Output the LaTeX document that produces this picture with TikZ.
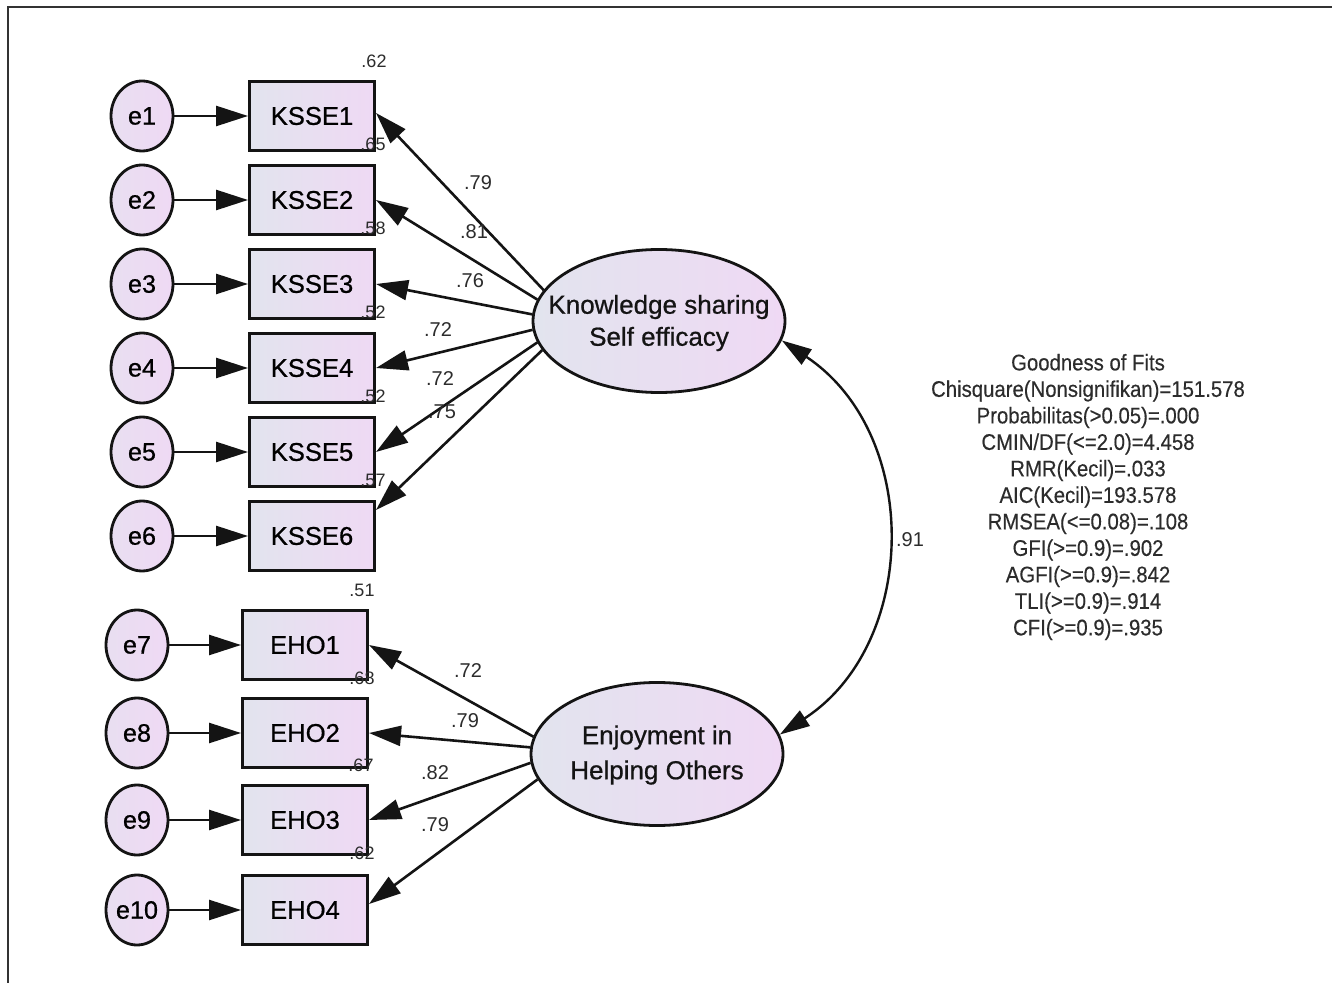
\documentclass[tikz,border=0pt]{standalone}
\usepackage{fontspec}
\setmainfont{Liberation Sans}
\newfontfamily\lblfont[FakeBold=0.7]{Liberation Sans}
\newfontfamily\fitfont[FakeStretch=0.9,FakeBold=0.3]{Liberation Sans}
\usetikzlibrary{arrows.meta,calc,shapes.geometric}
\definecolor{fillL}{HTML}{E2E4EE}
\definecolor{fillR}{HTML}{EFD9F4}
\definecolor{ink}{HTML}{141414}
\definecolor{frame}{HTML}{333333}
\tikzset{
  obs/.style={draw=ink, line width=1.5pt, rectangle, minimum width=62.5pt, minimum height=34.5pt,
    left color=fillL, right color=fillR, font=\lblfont\fontsize{12.8}{14}\selectfont, inner sep=0pt},
  err/.style={draw=ink, line width=1.4pt, ellipse, minimum width=31pt, minimum height=35pt,
    left color=fillL!50!fillR, right color=fillR, font=\lblfont\fontsize{12.6}{14}\selectfont, inner sep=0pt},
  lat/.style={draw=ink, line width=1.4pt, ellipse, minimum width=126pt, minimum height=71.5pt,
    left color=fillL, right color=fillR, inner sep=0pt},
  lattext/.style={align=center, inner sep=0pt, text=ink},
  arr/.style={draw=ink, line width=1.3pt, -{Triangle[length=16pt,width=10pt]}},
  cov/.style={draw=ink, line width=1.2pt, {Triangle[length=15pt,width=9pt]}-{Triangle[length=15pt,width=9pt]}},
  num/.style={font=\fontsize{9}{10}\selectfont, text=ink!90, inner sep=0pt},
  lod/.style={font=\fontsize{10}{11}\selectfont, text=ink!90, inner sep=0pt},
}
\begin{document}
\begin{tikzpicture}[x=0.5pt, y=-0.5pt]
\useasboundingbox (0,0) rectangle (1332,983);
\fill[white] (0,0) rectangle (1332,983);
\coordinate (fb) at (8,983);
\coordinate (fc) at (8,7);
\coordinate (fr) at (1332,7);
\draw[frame, line width=1.1pt] (fb) -- (fc) -- (fr);

% error terms
\node[err] (e1) at (142,116) {e1};
\node[err] (e2) at (142,200) {e2};
\node[err] (e3) at (142,284) {e3};
\node[err] (e4) at (142,368) {e4};
\node[err] (e5) at (142,452) {e5};
\node[err] (e6) at (142,536) {e6};
\node[err] (e7) at (137,645) {e7};
\node[err] (e8) at (137,733) {e8};
\node[err] (e9) at (137,820) {e9};
\node[err] (e10) at (137,910) {e10};

% indicators
\node[obs] (k1) at (312,116) {KSSE1};
\node[obs] (k2) at (312,200) {KSSE2};
\node[obs] (k3) at (312,284) {KSSE3};
\node[obs] (k4) at (312,368) {KSSE4};
\node[obs] (k5) at (312,452) {KSSE5};
\node[obs] (k6) at (312,536) {KSSE6};
\node[obs] (h1) at (305,645) {EHO1};
\node[obs] (h2) at (305,733) {EHO2};
\node[obs] (h3) at (305,820) {EHO3};
\node[obs] (h4) at (305,910) {EHO4};

% latent variables
\node[lat] (ks) at (659,321) {};
\node[lattext, font=\lblfont\fontsize{13}{16}\selectfont] (kst) at (659,323) {Knowledge sharing\\Self efficacy};
\node[lat] (eh) at (657,754) {};
\node[lattext, font=\lblfont\fontsize{13}{17.5}\selectfont] (eht) at (657,755) {Enjoyment in\\Helping Others};

% error arrows
\foreach \a/\b in {e1/k1,e2/k2,e3/k3,e4/k4,e5/k5,e6/k6,e7/h1,e8/h2,e9/h3,e10/h4}
  \draw[arr] (\a) -- (\b);

% loadings
\draw[arr] (ks.165) -- ($(k1.east)+(0,-3)$);
\draw[arr] (ks.170) -- (k2.east);
\draw[arr] (ks.177) -- (k3.east);
\draw[arr] (ks.184) -- (k4.east);
\draw[arr] (ks.190) -- (k5.east);
\draw[arr] (ks.194) -- ($(k6.east)+(0,-26)$);
\draw[arr] (eh.172) -- (h1.east);
\draw[arr] (eh.177) -- (h2.east);
\draw[arr] (eh.184) -- (h3.east);
\draw[arr] (eh.192) -- ($(h4.east)+(0,-6)$);

% covariance
\draw[cov] (ks.351) .. controls (922,434) and (919,644) .. (eh.9);
\node[lod] (c91) at (910,540) {.91};

% loading labels
\node[lod] (l1) at (478,183) {.79};
\node[lod] (l2) at (474,232) {.81};
\node[lod] (l3) at (470,281) {.76};
\node[lod] (l4) at (438,330) {.72};
\node[lod] (l5) at (440,379) {.72};
\node[lod] (l6) at (442,412) {.75};
\node[lod] (l7) at (468,671) {.72};
\node[lod] (l8) at (465,721) {.79};
\node[lod] (l9) at (435,773) {.82};
\node[lod] (l10) at (435,825) {.79};

% squared multiple correlations
\node[num] (r1) at (374,61) {.62};
\node[num] (r2) at (373,144) {.65};
\node[num] (r3) at (373,228) {.58};
\node[num] (r4) at (373,312) {.52};
\node[num] (r5) at (373,396) {.52};
\node[num] (r6) at (373,480) {.57};
\node[num] (r7) at (362,590) {.51};
\node[num] (r8) at (362,678) {.68};
\node[num] (r9) at (361,765) {.67};
\node[num] (r10) at (362,853) {.62};

% fit indices
\node[align=center, inner sep=0pt, text=ink!90, font=\fitfont\fontsize{11.3}{13.25}\selectfont] (fit) at (1088,497)
 {Goodness of Fits\\Chisquare(Nonsignifikan)=151.578\\Probabilitas(>0.05)=.000\\CMIN/DF(<=2.0)=4.458\\RMR(Kecil)=.033\\AIC(Kecil)=193.578\\RMSEA(<=0.08)=.108\\GFI(>=0.9)=.902\\AGFI(>=0.9)=.842\\TLI(>=0.9)=.914\\CFI(>=0.9)=.935};
\end{tikzpicture}
\end{document}
